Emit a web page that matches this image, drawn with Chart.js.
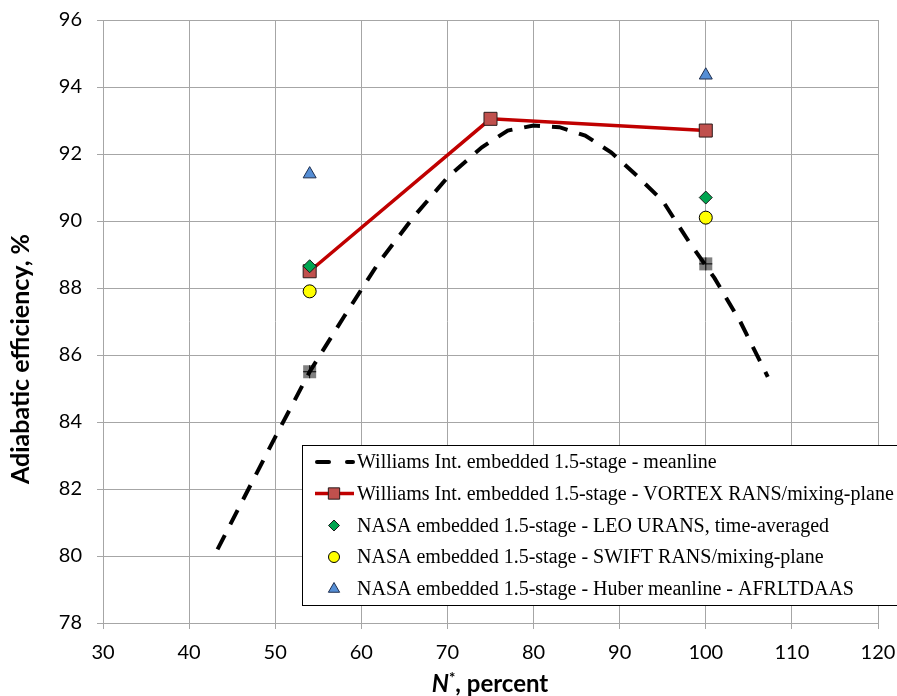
<!DOCTYPE html>
<html>
<head>
<meta charset="utf-8">
<script src="https://cdn.jsdelivr.net/npm/chart.js@4.4.1/dist/chart.umd.min.js"></script>
<style>
  html, body { margin: 0; padding: 0; background: #fff; }
  #wrap { width: 897px; height: 696px; position: relative; }
</style>
</head>
<body>
<div id="wrap"><canvas id="c" width="897" height="696"></canvas></div>
<script>
// ---- данные ----
const X_MIN = 30, X_MAX = 120, X_STEP = 10;
const Y_MIN = 78, Y_MAX = 96, Y_STEP = 2;

// Williams Int. - meanline (штриховая)
const meanlineX = [43.3, 46, 50, 54, 58, 62, 66, 70, 74, 77, 80, 83, 86, 89, 92, 95, 98, 101, 104, 107.2];
const meanlineY = [80.2, 81.55, 83.55, 85.5, 87.15, 88.75, 90.1, 91.3, 92.2, 92.7, 92.85, 92.8, 92.55, 92.05, 91.35, 90.6, 89.4, 88.3, 87.0, 85.35];

// Williams Int. - VORTEX RANS
const vortexX = [54, 75, 100];
const vortexY = [88.5, 93.05, 92.7];

// NASA - LEO URANS
const leoX = [54, 100];
const leoY = [88.65, 90.7];

// NASA - SWIFT RANS
const swiftX = [54, 100];
const swiftY = [87.9, 90.1];

// NASA - Huber meanline
const huberX = [54, 100];
const huberY = [91.4, 94.35];

// серые маркеры с крестом (без легенды)
const expX = [54, 100];
const expY = [85.5, 88.72];

const LABELS = [
  'Williams Int. embedded 1.5-stage - meanline',
  'Williams Int. embedded 1.5-stage - VORTEX RANS/mixing-plane',
  'NASA embedded 1.5-stage - LEO URANS, time-averaged',
  'NASA embedded 1.5-stage - SWIFT RANS/mixing-plane',
  'NASA embedded 1.5-stage - Huber meanline - AFRLTDAAS'
];

const pts = (xs, ys) => xs.map((x, i) => ({ x, y: ys[i] }));

const SANS = 'Lato, "Open Sans", sans-serif';
const SERIF = '"Liberation Serif", "Times New Roman", serif';
const GRID = '#a6a6a6';

// ---- легенда и подписи осей (рисуем сами) ----
const extras = {
  id: 'extras',
  afterDraw(chart) {
    const ctx = chart.ctx;
    ctx.save();

    // y title
    ctx.fillStyle = '#000';
    ctx.font = 'bold 25px ' + SANS;
    ctx.textAlign = 'center';
    ctx.textBaseline = 'middle';
    ctx.translate(21, 359);
    ctx.rotate(-Math.PI / 2);
    ctx.fillText('Adiabatic efficiency, %', 0, 0);
    ctx.restore();

    // x title: N* , percent
    ctx.save();
    ctx.fillStyle = '#000';
    ctx.textBaseline = 'alphabetic';
    const fN = 'italic bold 24px ' + SANS;
    const fS = 'bold 15px ' + SANS;
    const fR = 'bold 24px ' + SANS;
    ctx.font = fN; const wN = ctx.measureText('N').width;
    ctx.font = fS; const wS = ctx.measureText('*').width;
    ctx.font = fR; const wR = ctx.measureText(', percent').width;
    let tx = 490 - (wN + wS + wR) / 2;
    const ty = 692;
    ctx.font = fN; ctx.fillText('N', tx, ty); tx += wN;
    ctx.font = fS; ctx.fillText('*', tx, ty - 9); tx += wS;
    ctx.font = fR; ctx.fillText(', percent', tx, ty);
    ctx.restore();

    // legend box
    ctx.save();
    const bx = 302.5, by = 445.5, bw = 600, bh = 160;
    ctx.fillStyle = '#fff';
    ctx.fillRect(bx, by, bw, bh);
    ctx.strokeStyle = '#000';
    ctx.lineWidth = 1;
    ctx.strokeRect(bx, by, bw, bh);

    const rows = [462, 493.5, 525.5, 557, 589];
    const mx = 334;
    ctx.font = '20px ' + SERIF;
    ctx.textBaseline = 'middle';
    ctx.textAlign = 'left';
    ctx.fillStyle = '#000';
    LABELS.forEach((t, i) => ctx.fillText(t, 357, rows[i] + 1));

    // sample 1: dashed
    ctx.strokeStyle = '#000';
    ctx.lineWidth = 4;
    ctx.lineCap = 'round';
    ctx.beginPath(); ctx.moveTo(317, rows[0]); ctx.lineTo(329, rows[0]); ctx.stroke();
    ctx.beginPath(); ctx.moveTo(347, rows[0]); ctx.lineTo(353, rows[0]); ctx.stroke();

    // sample 2: red line + square
    const ds = chart.data.datasets;
    ctx.strokeStyle = ds[1].borderColor;
    ctx.lineWidth = 3.5;
    ctx.lineCap = 'butt';
    ctx.beginPath(); ctx.moveTo(315, rows[1]); ctx.lineTo(354, rows[1]); ctx.stroke();

    const marker = (d, y, r) => {
      ctx.fillStyle = d.pointBackgroundColor;
      ctx.strokeStyle = d.pointBorderColor;
      ctx.lineWidth = 1;
      Chart.helpers.drawPoint(ctx, { pointStyle: d.pointStyle, radius: r, borderWidth: 1, rotation: 0 }, mx, y);
    };
    marker(ds[1], rows[1], 8);
    marker(ds[2], rows[2], 5.5);
    marker(ds[3], rows[3], 5.5);
    marker(ds[4], rows[4], 6.5);
    ctx.restore();
  }
};

const ctx = document.getElementById('c');
new Chart(ctx, {
  type: 'scatter',
  data: {
    datasets: [
      {
        label: LABELS[0], data: pts(meanlineX, meanlineY), showLine: true,
        borderColor: '#000', borderWidth: 4, borderDash: [16, 12], borderCapStyle: 'butt',
        pointRadius: 0, tension: 0, order: 6
      },
      {
        label: LABELS[1], data: pts(vortexX, vortexY), showLine: true,
        borderColor: '#c00000', borderWidth: 3.5, tension: 0,
        pointStyle: 'rect', pointRadius: 9.2, pointBackgroundColor: '#c0504d',
        pointBorderColor: '#2b1a1a', pointBorderWidth: 1, order: 5
      },
      {
        label: LABELS[2], data: pts(leoX, leoY), showLine: false,
        pointStyle: 'rectRot', pointRadius: 6.5, pointBackgroundColor: '#00a550',
        pointBorderColor: '#1a1a1a', pointBorderWidth: 1, order: 1
      },
      {
        label: LABELS[3], data: pts(swiftX, swiftY), showLine: false,
        pointStyle: 'circle', pointRadius: 6.5, pointBackgroundColor: '#ffff00',
        pointBorderColor: '#000', pointBorderWidth: 1, order: 2
      },
      {
        label: LABELS[4], data: pts(huberX, huberY), showLine: false,
        pointStyle: 'triangle', pointRadius: 7.5, pointBackgroundColor: '#558ed5',
        pointBorderColor: '#1f2f4f', pointBorderWidth: 1, order: 3
      },
      {
        label: 'exp', data: pts(expX, expY), showLine: false,
        pointStyle: 'rect', pointRadius: 9.2, pointBackgroundColor: '#808080',
        pointBorderWidth: 0, pointBorderColor: 'rgba(0,0,0,0)', order: 8
      },
      {
        label: 'exp-cross', data: pts(expX, expY), showLine: false,
        pointStyle: 'cross', pointRadius: 6.5, pointBorderColor: '#000',
        pointBorderWidth: 1, order: 7
      }
    ]
  },
  options: {
    responsive: false,
    animation: false,
    layout: { padding: { left: 0, top: 20, right: 19, bottom: 0 } },
    plugins: {
      legend: { display: false },
      tooltip: { enabled: false },
      title: { display: false }
    },
    scales: {
      x: {
        type: 'linear', min: X_MIN, max: X_MAX,
        ticks: { stepSize: X_STEP, color: '#000', font: { family: SANS, size: 20 }, padding: 12 },
        grid: { color: GRID, lineWidth: 1, tickLength: 6, tickColor: GRID },
        border: { color: GRID, width: 1 },
        afterFit: s => { s.height = 73; s.paddingLeft = 0; s.paddingRight = 0; }
      },
      y: {
        type: 'linear', min: Y_MIN, max: Y_MAX,
        ticks: { stepSize: Y_STEP, color: '#000', font: { family: SANS, size: 20 }, padding: 15 },
        grid: { color: GRID, lineWidth: 1, tickLength: 6, tickColor: GRID },
        border: { color: GRID, width: 1 },
        afterFit: s => { s.width = 103; s.paddingTop = 0; s.paddingBottom = 0; }
      }
    }
  },
  plugins: [extras]
});
</script>
</body>
</html>
